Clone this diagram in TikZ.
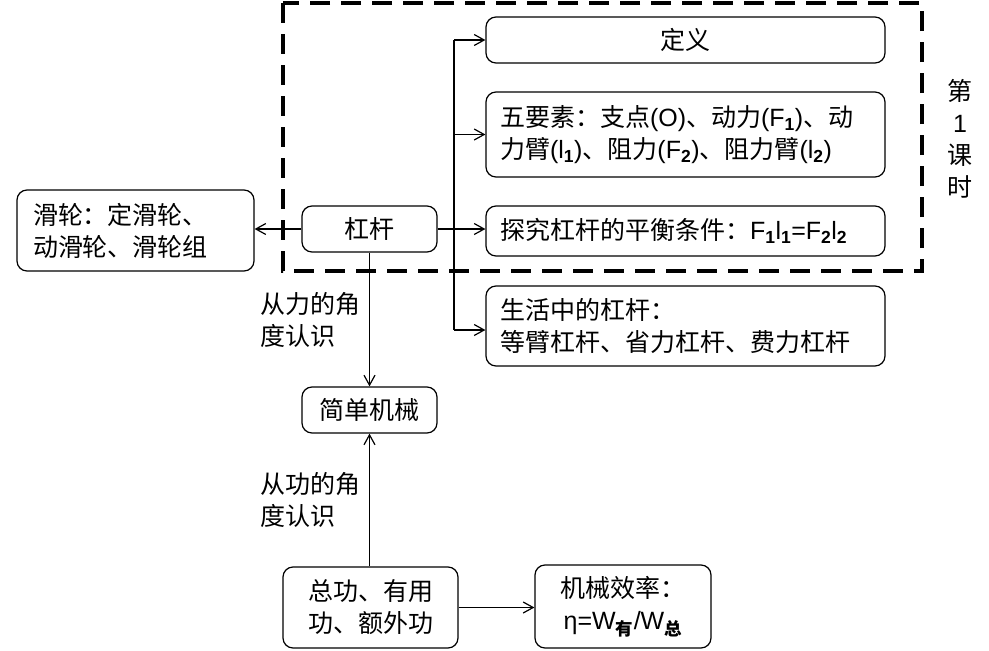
\documentclass[tikz,border=0pt]{standalone}
\usepackage{fontspec}
\setmainfont{Noto Sans CJK SC}
\newfontfamily\latfont{Liberation Sans}
\usetikzlibrary{positioning, arrows.meta}
\newcommand{\xsub}[1]{\textsubscript{\bfseries #1}}
\newcommand{\la}[1]{{\latfont #1}}

\begin{document}
\begin{tikzpicture}[x=1pt, y=-1pt, font=\fontsize{25}{32}\selectfont,
    box/.style={draw, rounded corners=10pt, line width=1.2pt, inner sep=0pt, align=center},
    lbox/.style={box, align=left, text width=371pt, inner xsep=14pt},
    arr/.style={-{Straight Barb[length=10pt, width=11pt]}, line width=1.2pt},
    tag/.style={align=left, inner sep=8pt}]
      \useasboundingbox (0,0) rectangle (989,651);

      % frame of the first lesson
      \draw[line width=4pt, dash pattern=on 20pt off 11pt] (283,3) rectangle (922,271);
      \node[align=center] (keshi) at (960,139) {第\\\la{1}\\课\\时};

      \node[box, minimum width=399pt, minimum height=46pt] (dingyi) at (685.5,40) {定义};
      \node[lbox, minimum height=85pt] (wuyaosu) at (685.5,134.5) {五要素：支点\la{(O)}、动力\la{(F\xsub{1})}、动\\力臂\la{(l\xsub{1})}、阻力\la{(F\xsub{2})}、阻力臂\la{(l\xsub{2})}};
      \node[lbox, minimum height=50pt] (tanjiu) at (685.5,231) {探究杠杆的平衡条件：\la{F\xsub{1}l\xsub{1}=F\xsub{2}l\xsub{2}}};
      \node[lbox, minimum height=80pt] (shenghuo) at (685.5,326) {生活中的杠杆：\\等臂杠杆、省力杠杆、费力杠杆};

      \node[box, minimum width=135pt, minimum height=46pt] (ganggan) at (369.5,229) {杠杆};
      \node[box, align=left, text width=205pt, inner xsep=16pt, minimum height=81pt] (hualun) at (135.5,230.5) {滑轮：定滑轮、\\动滑轮、滑轮组};
      \node[box, minimum width=135pt, minimum height=46pt] (jixie) at (369.5,410) {简单机械};
      \node[box, minimum width=175pt, minimum height=81pt] (gong) at (370.5,607.5) {总功、有用\\功、额外功};
      \node[box, minimum width=176pt, minimum height=83pt] (xiaolv) at (623,606.5) {机械效率：\\\la{η=W}\xsub{有}\la{/W}\xsub{总}};

      \coordinate (top) at (454,40);
      \coordinate (bot) at (454,330);
      \draw[line width=1.2pt] (top) -- (bot);
      \draw[arr] (top) -- (dingyi.west |- top);
      \draw[arr] (454,134.5) -- (wuyaosu.west);
      \draw[arr] (ganggan.east) -- (tanjiu.west |- ganggan.east);
      \draw[arr] (bot) -- (shenghuo.west |- bot);

      \draw[arr] (ganggan.west) -- (hualun.east |- ganggan.west);
      \draw[arr] (ganggan.south) -- node[tag, left] {从力的角\\度认识} (jixie.north);
      \draw[arr] (gong.north -| jixie.south) -- node[tag, left] {从功的角\\度认识} (jixie.south);
      \draw[arr] (gong.east) -- (xiaolv.west |- gong.east);
    \end{tikzpicture}
\end{document}
